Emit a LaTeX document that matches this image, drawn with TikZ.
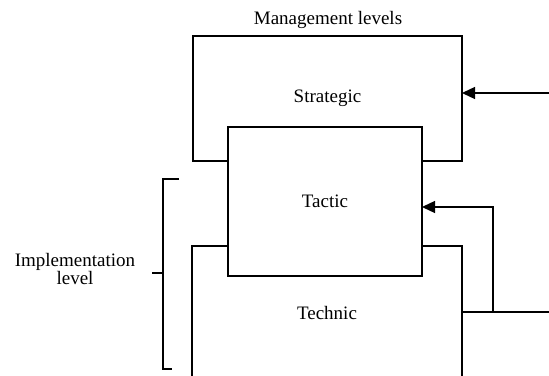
\documentclass[tikz,border=0pt]{standalone}
\usepackage{fontspec}
\setmainfont{Liberation Serif}
\usetikzlibrary{arrows.meta, positioning}

\begin{document}
\begin{tikzpicture}[x=1pt, y=-1pt, line width=1.3pt, font=\fontsize{19}{21}\selectfont,
  lvl/.style={inner sep=0pt, outer sep=0pt},
  tip/.style={-{Triangle[length=13pt,width=12pt]}}]
\useasboundingbox (0,0) rectangle (549,375);
\node (title) at (328,20) {Management levels};
\node[lvl, minimum width=269pt, minimum height=125pt] (strat) at (327.5,98.5) {Strategic};
\node[lvl, draw, minimum width=194pt, minimum height=149pt] (tact) at (325,201.5) {Tactic};
\node[lvl, minimum width=270pt, minimum height=134pt] (tech) at (327,313) {Technic};
\node[align=center, font=\fontsize{19}{18}\selectfont] (impl) at (75,269) {Implementation\\level};
\draw (tact.west |- strat.south) -- (strat.south west) -- (strat.north west) -- (strat.north east) -- (strat.south east) -- (tact.east |- strat.south);
\draw (tech.south west) -- (tech.north west) -- (tact.west |- tech.north);
\draw (tact.east |- tech.north) -- (tech.north east) -- (tech.south east);
\draw (179,179) -- (163,179) -- (163,369) -- (172,369);
\draw (152,273) -- (163,273);
\coordinate (sIn) at (549,93);
\coordinate (fIn) at (549,312);
\coordinate (fUp) at (493,312);
\draw[tip] (sIn) -- (strat.east |- sIn);
\draw (fIn) -- (tech.east |- fIn);
\draw[tip] (fUp) |- ([yshift=-5.5pt]tact.east);
\end{tikzpicture}
\end{document}
